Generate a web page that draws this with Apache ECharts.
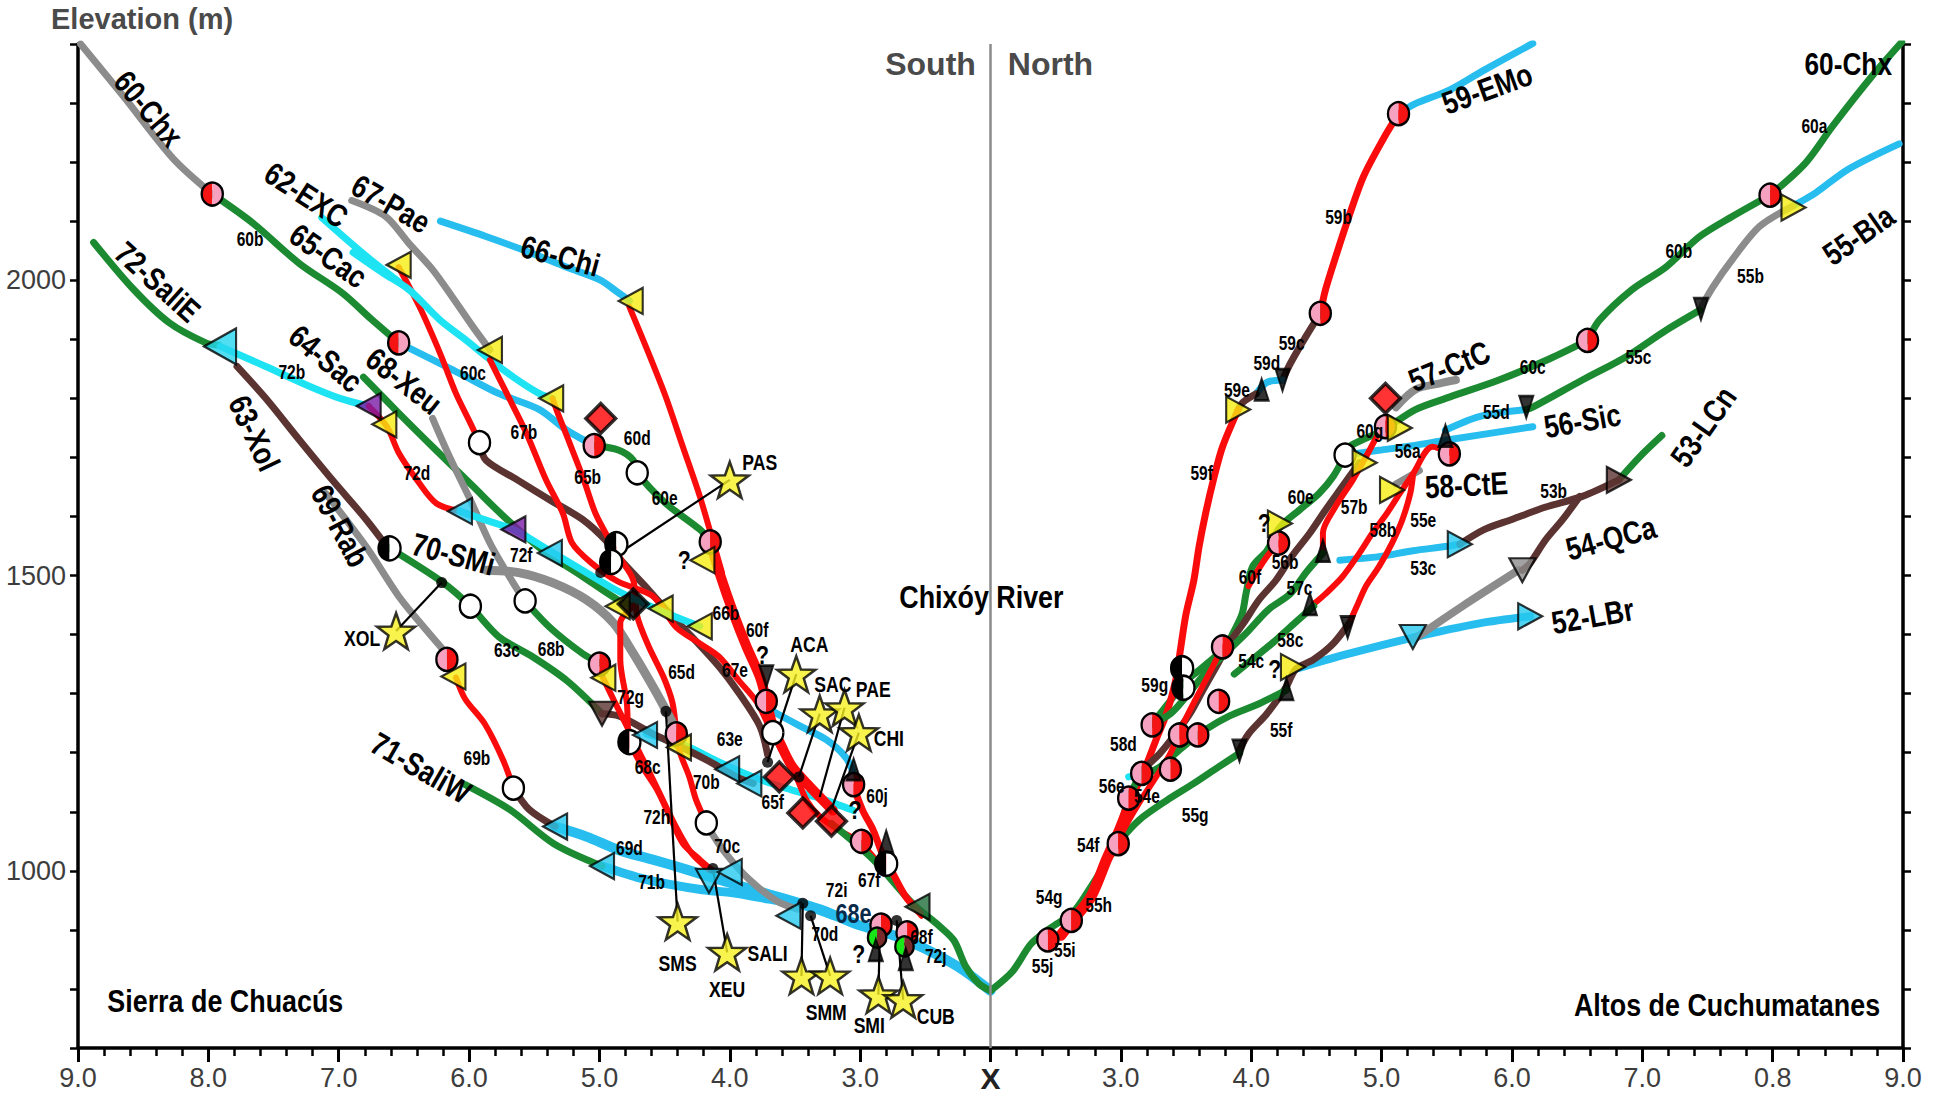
<!DOCTYPE html>
<html><head><meta charset="utf-8">
<script src="https://cdn.jsdelivr.net/npm/echarts@6.0.0/dist/echarts.min.js"></script>
<style>html,body{margin:0;padding:0;background:#fff}#c{width:1940px;height:1095px}</style>
</head><body><div id="c"></div>
<script>
// ---------- DATA: [distance (km), elevation (m)] ; S = South bank (left), N = North bank (right) ----------
const xTickLabelsSouth = ['9.0','8.0','7.0','6.0','5.0','4.0','3.0'];
const xTickLabelsNorth = ['3.0','4.0','5.0','6.0','7.0','0.8','9.0'];
const yTickLabels = [1000, 1500, 2000];

// South side routes
const s60Chx = [[8.98,2400],[8.65,2311],[8.27,2206],[7.97,2146]];
const s60b = [[7.97,2146],[7.66,2097],[7.30,2028],[6.97,1978],[6.75,1934],[6.54,1894]];
const s60c = [[6.54,1894],[6.07,1842],[5.77,1808],[5.46,1781],[5.25,1746],[5.04,1720]];
const s60d = [[5.04,1720],[4.85,1712],[4.74,1695],[4.71,1674],[4.49,1622],[4.23,1578],[4.15,1557]];
const s60f = [[4.15,1557],[4.08,1505],[3.97,1435],[3.87,1379],[3.77,1329],[3.72,1289],[3.67,1245],[3.59,1205],[3.52,1176],[3.41,1148],[3.31,1125],[3.21,1102]];
const s60g = [[3.22,1080],[2.90,1019],[2.60,945],[2.39,906],[2.28,882],[2.19,838],[2.09,809],[2.00,797]];
const s66Chi = [[6.22,2100],[5.87,2074],[5.51,2045],[5.25,2022],[5.00,2001],[4.85,1978],[4.77,1965]];
const s66b = [[4.77,1955],[4.62,1875],[4.49,1802],[4.36,1718],[4.23,1634],[4.13,1559],[4.06,1505]];
const s66c = [[3.67,1270],[3.46,1245],[3.26,1222],[3.11,1192],[3.05,1165]];
const s60j = [[3.05,1142],[2.98,1102],[2.90,1069],[2.83,1029],[2.75,996],[2.65,956],[2.54,929]];
const s62EXC = [[7.13,2106],[6.79,2041],[6.46,1984]];
const s62b = [[6.54,2022],[6.38,1955],[6.22,1875],[6.10,1808],[5.99,1758],[5.92,1725]];
const s62d = [[5.92,1725],[5.87,1695],[5.63,1662],[5.38,1628],[5.13,1595],[4.95,1559],[4.86,1532],[4.62,1475],[4.48,1440],[4.29,1396],[4.08,1345],[3.93,1301],[3.77,1245],[3.71,1197]];
const s65Cac = [[6.89,2047],[6.66,2012],[6.46,1984],[6.22,1932],[6.02,1898],[5.87,1871],[5.66,1836],[5.46,1808],[5.36,1800]];
const s65b = [[5.36,1800],[5.33,1781],[5.23,1725],[5.12,1662],[5.03,1605],[4.92,1559],[4.85,1532],[4.74,1492],[4.71,1431],[4.62,1379],[4.51,1329],[4.44,1285],[4.41,1232]];
const s67Pae = [[6.90,2135],[6.64,2108],[6.46,2062],[6.28,2018],[6.13,1972],[5.97,1921],[5.84,1882]];
const s67b = [[5.84,1865],[5.71,1808],[5.56,1741],[5.41,1662],[5.28,1605],[5.21,1555],[5.06,1521],[4.86,1490],[4.59,1465],[4.41,1412],[4.23,1385],[4.08,1362],[3.93,1322],[3.79,1285],[3.70,1245],[3.59,1199],[3.49,1159],[3.41,1119],[3.31,1092],[3.15,1067],[3.00,1048],[2.84,1008],[2.67,962],[2.53,924]];
const s63Xol = [[7.78,1854],[7.56,1800],[7.30,1729],[7.05,1662],[6.79,1595],[6.63,1549]];
const s63c = [[6.63,1549],[6.20,1488],[5.99,1448],[5.77,1396],[5.51,1362],[5.25,1322],[4.98,1266]];
const s63e = [[4.98,1266],[4.85,1262],[4.59,1232],[4.33,1205],[4.13,1182],[3.95,1159],[3.82,1148]];
const s63f = [[4.64,1232],[4.33,1211],[4.08,1184],[3.82,1159],[3.57,1140],[3.31,1123],[3.05,1102]];
const s64Sac = [[6.81,1836],[6.54,1775],[6.28,1718],[5.97,1651],[5.71,1595],[5.43,1542],[5.14,1500],[4.86,1459],[4.74,1448]];
const s68Xeu = [[6.28,1766],[6.15,1701],[5.99,1628],[5.84,1555],[5.71,1505],[5.58,1459]];
const s68b = [[5.58,1459],[5.38,1412],[5.13,1368],[5.00,1352]];
const s68c = [[4.74,1448],[4.84,1420],[4.84,1358],[4.79,1285],[4.77,1222],[4.67,1176],[4.56,1138],[4.46,1092],[4.36,1046],[4.23,1019],[4.14,1002]];
const s70SMi = [[5.87,1509],[5.62,1505],[5.36,1488],[5.10,1459],[4.89,1419],[4.74,1368],[4.59,1312],[4.49,1272],[4.41,1239]];
const s70b = [[4.41,1232],[4.38,1199],[4.31,1159],[4.26,1121],[4.19,1086]];
const s70c = [[4.17,1075],[4.03,1029],[3.85,985],[3.64,949],[3.48,935]];
const s72SaliE = [[8.88,2064],[8.58,1986],[8.30,1928],[8.02,1894],[7.92,1890]];
const s72b = [[7.91,1888],[7.56,1854],[7.23,1821],[6.99,1800],[6.77,1787]];
const s72d = [[6.77,1787],[6.63,1752],[6.54,1708],[6.40,1662],[6.25,1622],[6.07,1609]];
const s72f = [[6.07,1609],[5.89,1595],[5.66,1578],[5.38,1542],[5.13,1509],[4.87,1475],[4.67,1454],[4.47,1435],[4.23,1414]];
const s72g = [[4.99,1335],[4.89,1289],[4.79,1245],[4.69,1199],[4.59,1155],[4.49,1109],[4.40,1069],[4.29,1029],[4.16,1002]];
const s69Rab = [[7.10,1639],[6.79,1549],[6.54,1465],[6.33,1408],[6.15,1362]];
const s69b = [[6.10,1327],[6.03,1291],[5.88,1249],[5.74,1188],[5.66,1140]];
const s69c = [[5.66,1140],[5.54,1104],[5.34,1075]];
const s69d = [[5.34,1075],[5.10,1058],[4.85,1035],[4.59,1019],[4.33,1002],[4.08,985],[3.82,968],[3.57,952],[3.31,935],[3.01,908],[2.80,895],[2.60,878],[2.42,859],[2.21,832],[2.00,797]];
const s71SaliW = [[6.03,1146],[5.69,1104],[5.35,1046],[4.98,1008]];
const s71b = [[4.98,1008],[4.71,989],[4.46,977],[4.21,968],[3.95,962],[3.70,952],[3.43,941],[3.20,924]];

// North side routes
const n60Chx = [[8.99,2403],[8.76,2345],[8.46,2261],[8.25,2198],[7.98,2144]];
const n60b = [[7.98,2144],[7.69,2108],[7.44,2074],[7.18,2022],[6.92,1984],[6.67,1932],[6.58,1898]];
const n60c = [[6.58,1898],[6.29,1867],[5.90,1831],[5.52,1802],[5.26,1781],[5.01,1746],[4.75,1718],[4.72,1704]];
const n60e = [[4.72,1704],[4.63,1668],[4.52,1639],[4.37,1611],[4.22,1582],[4.12,1542],[4.01,1515],[3.96,1469],[3.93,1435],[3.86,1402],[3.80,1379],[3.62,1343],[3.48,1318],[3.37,1285],[3.24,1249]];
const n60f = [[4.21,1555],[4.12,1532],[4.04,1505],[3.98,1482]];
const n59EMo = [[6.16,2401],[5.78,2355],[5.52,2322],[5.26,2299],[5.13,2282]];
const n59b = [[5.13,2282],[5.01,2238],[4.86,2175],[4.75,2108],[4.65,2041],[4.57,1984],[4.53,1944]];
const n59c = [[4.53,1944],[4.42,1905],[4.30,1859],[4.24,1831]];
const n59d = [[4.24,1831],[4.12,1827],[4.04,1808]];
const n59e = [[4.04,1808],[3.94,1794],[3.90,1781]];
const n59f = [[3.90,1781],[3.78,1718],[3.71,1662],[3.65,1605],[3.60,1549],[3.56,1492],[3.50,1435],[3.46,1379],[3.42,1322],[3.35,1266],[3.27,1222],[3.20,1182],[3.09,1126]];
const n55h = [[3.09,1126],[2.99,1069],[2.89,1019],[2.77,956],[2.63,916],[2.54,891]];
const n58d = [[3.78,1379],[3.68,1335],[3.57,1289],[3.47,1245],[3.38,1199],[3.27,1159],[3.14,1115],[3.02,1069],[2.94,1029]];
const n57CtC = [[5.11,1785],[5.26,1815],[5.44,1825],[5.57,1831]];
const n57b = [[5.04,1758],[4.98,1741],[4.88,1701],[4.78,1662],[4.65,1618],[4.55,1572],[4.55,1542]];
const n57c = [[4.55,1538],[4.42,1505],[4.30,1469],[4.13,1442],[3.96,1402],[3.80,1368],[3.65,1335],[3.50,1295],[3.38,1266],[3.24,1249]];
const n58CtE = [[5.11,1655],[5.29,1678]];
const n58b = [[5.52,1708],[5.39,1718],[5.24,1672],[5.14,1639],[5.04,1605],[4.93,1572],[4.83,1538],[4.70,1498],[4.57,1469],[4.48,1452]];
const n58c = [[4.48,1448],[4.32,1417],[4.17,1387],[4.02,1360],[3.87,1333]];
const n55Bla = [[8.15,2125],[8.33,2148],[8.58,2188],[8.97,2231]];
const n55b = [[8.15,2125],[7.90,2091],[7.69,2035],[7.54,1988],[7.44,1949]];
const n55c = [[7.44,1949],[7.18,1915],[6.88,1871],[6.54,1831],[6.16,1785],[6.11,1781]];
const n55d = [[6.11,1781],[5.75,1769],[5.49,1746]];
const n55e = [[5.24,1668],[5.22,1639],[5.16,1595],[5.08,1555],[4.98,1515],[4.88,1482],[4.81,1448],[4.75,1419]];
const n55f = [[4.75,1419],[4.63,1385],[4.48,1358],[4.34,1341],[4.27,1312],[4.12,1266],[3.98,1232],[3.91,1205]];
const n55g = [[3.91,1199],[3.75,1176],[3.56,1148],[3.35,1119],[3.14,1086],[2.97,1046]];
const n56a = [[4.72,1704],[4.98,1712],[5.24,1720],[5.49,1729],[6.16,1752]];
const n56b = [[4.83,1691],[4.70,1651],[4.57,1611],[4.45,1572],[4.31,1532],[4.19,1492],[4.06,1459],[3.94,1419],[3.83,1385],[3.73,1345],[3.63,1306],[3.53,1266],[3.42,1232],[3.30,1199],[3.17,1172]];
const n56e = [[3.06,1159],[3.30,1172]];
const n54c = [[4.27,1306],[4.06,1283],[3.83,1262],[3.65,1239],[3.45,1205],[3.30,1176],[3.14,1159]];
const n54g = [[3.14,1159],[3.06,1123],[3.02,1092],[2.97,1046],[2.87,1008],[2.75,966],[2.63,929],[2.46,903],[2.31,876],[2.17,830],[2.00,797]];
const n54QCa = [[5.24,1391],[5.62,1448],[6.05,1509]];
const n54b = [[6.52,1634],[6.39,1595],[6.26,1561],[6.14,1521],[6.08,1509]];
const n53LCn = [[7.15,1737],[6.98,1701],[6.82,1662]];
const n53b = [[6.82,1662],[6.54,1634],[6.26,1616],[6.00,1595],[5.79,1578],[5.60,1553]];
const n53c = [[4.68,1526],[4.98,1532],[5.24,1542],[5.49,1549],[5.60,1553]];
const n52LBr = [[4.36,1343],[4.72,1366],[5.24,1395],[5.75,1419],[6.14,1431]];

// Markers: [side, distance, elevation, (which half is red)]
const halfCircles = [['S',7.97,2146,'L'],['S',6.54,1894,'L'],['S',5.04,1720],['S',4.15,1557],['S',6.17,1358],['S',5.00,1350],['S',4.41,1232],['S',3.72,1287],['S',3.05,1146],['S',2.99,1050],['S',2.84,908],['S',2.64,895],
  ['N',5.13,2282],['N',4.53,1944],['N',7.98,2144],['N',6.58,1898],['N',5.03,1752],['N',5.52,1706],['N',4.21,1555],['N',3.78,1379],['N',3.24,1247],['N',3.45,1230],['N',3.59,1230],['N',3.75,1287],['N',3.38,1172],['N',3.16,1165],['N',3.06,1123],['N',2.98,1046],['N',2.62,916],['N',2.44,883]];
const whiteCircles = [['S',5.92,1725],['S',4.71,1674],['S',5.99,1448],['S',5.57,1457],['S',5.66,1140],['S',3.67,1234],['S',4.18,1081],['N',4.72,1704]];
const halfBlackCircles = [['S',6.61,1546],['S',4.87,1553],['S',4.91,1523],['S',4.77,1218],['S',2.80,1012],['N',3.47,1343],['N',3.48,1310]];
const greenCircles = [['S',2.87,887],['S',2.66,872]];
const blackDots = [['S',6.21,1488],['S',4.99,1505],['S',4.49,1270],['S',4.13,1004],['S',3.71,1184],['S',3.47,1159],['S',3.44,945],['S',3.38,924],['S',2.72,916]];
const redDiamonds = [['S',4.99,1766],['S',3.62,1159],['S',3.44,1098],['S',3.22,1084],['N',5.03,1800]];
const blackDiamonds = [['S',4.74,1452]];
// triangles: [side, distance, elevation, pointing]
const yellowTriangles = [['S',6.54,2026,'<'],['S',5.84,1882,'<'],['S',5.37,1800,'<'],['S',4.76,1965,'<'],['S',6.65,1756,'<'],['S',6.12,1329,'<'],['S',4.97,1327,'<'],['S',4.39,1209,'<'],['S',4.86,1448,'<'],['S',4.53,1444,'<'],['S',4.23,1414,'<'],['S',4.21,1526,'<'],
  ['N',3.90,1781,'>'],['N',5.14,1750,'>'],['N',4.87,1691,'>'],['N',5.08,1645,'>'],['N',4.22,1588,'>'],['N',4.32,1345,'>'],['N',8.16,2123,'>']];
const cyanTriangles = [['S',6.07,1609,'<'],['S',5.38,1538,'<'],['S',4.65,1230,'<'],['S',4.02,1172,'<'],['S',3.85,1148,'<'],['S',5.34,1075,'<'],['S',4.98,1008,'<'],['S',4.16,983,'v'],['S',4.00,998,'<'],['S',3.55,924,'<'],
  ['N',5.60,1553,'>'],['N',6.14,1431,'>'],['N',5.24,1396,'v']];
const bigCyanTriangles = [['S',7.91,1888,'<']];
const purpleTriangles = [['S',6.77,1787,'<'],['S',5.66,1578,'<']];
const brownTriangles = [['S',4.98,1266,'v'],['N',6.82,1662,'>']];
const grayTriangles = [['N',6.08,1509,'v']];
const greenTriangles = [['S',2.56,939,'<']];
const blackTriangles = [['S',3.72,1329,'v'],['S',3.05,1172,'^'],['S',2.80,1050,'^'],['S',2.88,866,'^'],['S',2.65,851,'^'],
  ['N',4.24,1831,'v'],['N',4.08,1815,'^'],['N',6.11,1785,'v'],['N',7.45,1951,'v'],['N',5.49,1737,'^'],['N',4.55,1542,'^'],['N',4.45,1452,'^'],['N',4.74,1412,'v'],['N',4.27,1308,'^'],['N',3.91,1203,'v']];
// sample sites (stars) and their tie lines
const stars = [['S',4.00,1662],['S',6.56,1406],['S',3.49,1333],['S',3.31,1266],['S',3.12,1276],['S',3.01,1234],['S',4.40,914],['S',4.02,862],['S',3.45,822],['S',3.23,822],['S',2.86,790],['S',2.67,782]];
const tieLines = [[[4.00,1662],[4.86,1536]],[[6.56,1406],[6.21,1488]],[[4.49,1270],[4.40,914]],[[4.13,1004],[4.02,862]],[[3.49,1333],[3.71,1184]],[[3.31,1266],[3.47,1159]],[[3.12,1276],[3.31,1125]],[[3.01,1234],[3.23,1098]],[[3.44,945],[3.45,822]],[[3.38,924],[3.23,822]],[[2.85,885],[2.86,790]],[[2.72,916],[2.67,782]]];

// Text annotations: [side, distance, elevation, text, angle]
const routeLabels = [['S',8.46,2290,'60-Chx',-50],['S',7.25,2144,'62-EXC',-33],['S',6.60,2129,'67-Pae',-30],['S',7.08,2041,'65-Cac',-35],['S',5.30,2041,'66-Chi',-15],['S',8.39,1997,'72-SaliE',-42],['S',7.10,1867,'64-Sac',-40],['S',6.50,1829,'68-Xeu',-38],['S',7.65,1741,'63-Xol',-65],['S',6.99,1584,'69-Rab',-62],['S',6.12,1536,'70-SMi',-15],['S',6.37,1174,'71-SaliW',-30],
  ['N',5.81,2324,'59-EMo',20],['N',5.52,1854,'57-CtC',22],['N',6.54,1762,'56-Sic',10],['N',5.65,1653,'58-CtE',3],['N',8.66,2076,'55-Bla',35],['N',8.58,2366,'60-Chx',0],['N',7.47,1752,'53-LCn',55],['N',6.76,1563,'54-QCa',15],['N',6.62,1431,'52-LBr',10]];
const segmentLabels = [['S',7.68,2070,'60b'],['S',7.36,1846,'72b'],['S',5.97,1844,'60c'],['S',5.58,1743,'67b'],['S',6.40,1674,'72d'],['S',4.71,1733,'60d'],['S',5.09,1668,'65b'],['S',4.50,1632,'60e'],['S',5.60,1536,'72f'],['S',5.71,1375,'63c'],['S',5.37,1377,'68b'],['S',4.03,1438,'66b'],['S',3.79,1408,'60f'],['S',3.96,1341,'67e'],['S',4.37,1337,'65d'],['S',4.76,1295,'72g'],['S',4.00,1224,'63e'],['S',4.63,1176,'68c'],['S',4.18,1151,'70b'],['S',3.67,1117,'65f'],['S',2.87,1127,'60j'],['S',4.56,1092,'72h'],['S',5.94,1192,'69b'],['S',4.77,1040,'69d'],['S',4.60,981,'71b'],['S',4.02,1042,'70c'],['S',3.18,968,'72i'],['S',3.27,893,'70d'],['S',2.53,889,'68f'],['S',2.42,857,'72j'],['S',2.93,985,'67f'],
  ['N',8.32,2261,'60a'],['N',7.28,2051,'60b'],['N',7.83,2007,'55b'],['N',6.16,1854,'60c'],['N',6.97,1871,'55c'],['N',5.88,1777,'55d'],['N',4.67,2108,'59b'],['N',4.31,1894,'59c'],['N',4.12,1861,'59d'],['N',3.89,1815,'59e'],['N',3.62,1674,'59f'],['N',4.91,1746,'60g'],['N',5.20,1712,'56a'],['N',4.38,1634,'60e'],['N',4.79,1616,'57b'],['N',5.01,1578,'58b'],['N',5.32,1595,'55e'],['N',6.32,1643,'53b'],['N',5.32,1513,'53c'],['N',3.99,1498,'60f'],['N',4.26,1523,'56b'],['N',4.37,1480,'57c'],['N',4.30,1391,'58c'],['N',4.00,1356,'54c'],['N',4.23,1239,'55f'],['N',3.26,1316,'59g'],['N',3.02,1216,'58d'],['N',2.93,1144,'56e'],['N',3.20,1128,'54e'],['N',3.57,1096,'55g'],['N',2.75,1044,'54f'],['N',2.45,956,'54g'],['N',2.83,943,'55h'],['N',2.57,866,'55i'],['N',2.40,839,'55j']];
const bigSegmentLabels = [['S',3.05,928,'68e']];
const queryLabels = [['S',4.35,1526,'?'],['S',3.75,1364,'?'],['S',3.04,1102,'?'],['S',3.01,859,'?'],['N',4.10,1588,'?'],['N',4.18,1341,'?']];
const siteLabels = [['S',3.77,1691,'PAS'],['S',6.82,1394,'XOL'],['S',3.39,1383,'ACA'],['S',3.21,1316,'SAC'],['S',2.90,1308,'PAE'],['S',2.78,1224,'CHI'],['S',4.40,843,'SMS'],['S',4.02,799,'XEU'],['S',3.71,861,'SALI'],['S',3.26,761,'SMM'],['S',2.93,738,'SMI'],['S',2.42,753,'CUB']];
const regionLabels = [['S',2.07,1465,'Chixóy River'],['S',7.87,780,'Sierra de Chuacús'],['N',7.65,773,'Altos de Cuchumatanes']];
const sideLabels = [['S',2.46,2366,'South'],['N',2.46,2366,'North']];

// ---------- RENDERING ----------
const FONT = "'Liberation Sans',Arial,sans-serif";
const COL = {gray:'#8c8c8c', green:'#1b8a30', red:'#fb0c0c', sky:'#27bdee', cyan:'#1de3f3', brown:'#5b3331'};
const toU = (side, d) => side === 'S' ? -(d - 2) : (d - 2);

const routes = [
  [s69d,'S','sky',10],[s71b,'S','sky',9],[s63f,'S','cyan',7],
  [s60Chx,'S','gray',7],[s60b,'S','green',7],[s60c,'S','sky',7],[s60d,'S','green',7],
  [s66Chi,'S','sky',7],[s66b,'S','red',6],[s66c,'S','sky',7],
  [s62EXC,'S','cyan',7],[s62b,'S','red',6],[s62d,'S','brown',7],
  [s65Cac,'S','cyan',7],[s65b,'S','red',6],
  [s67Pae,'S','gray',7],[s67b,'S','red',6],
  [s63Xol,'S','brown',7],[s63c,'S','green',7],[s63e,'S','brown',7],
  [s64Sac,'S','green',7],[s68Xeu,'S','gray',7],[s68b,'S','green',7],
  [s70SMi,'S','gray',9],[s70b,'S','red',6],[s70c,'S','gray',7],
  [s68c,'S','red',6],[s72g,'S','red',6],
  [s72SaliE,'S','green',7],[s72b,'S','cyan',7],[s72d,'S','red',6],[s72f,'S','cyan',7],
  [s69Rab,'S','gray',7],[s69b,'S','red',6],[s69c,'S','brown',7],
  [s71SaliW,'S','green',7],[s60g,'S','green',7],[s60f,'S','red',10],[s60j,'S','red',7],
  [n60Chx,'N','green',7],[n60b,'N','green',7],[n60c,'N','green',7],[n60e,'N','green',7],[n60f,'N','red',6],
  [n59EMo,'N','sky',7],[n59b,'N','red',7],[n59c,'N','brown',7],[n59d,'N','sky',7],[n59e,'N','brown',7],[n59f,'N','red',7],
  [n56a,'N','sky',7],[n55d,'N','sky',7],[n53c,'N','sky',7],[n52LBr,'N','sky',8],[n55Bla,'N','sky',7],[n56e,'N','cyan',7],
  [n55b,'N','gray',7],[n55c,'N','green',7],[n57CtC,'N','gray',8],[n58CtE,'N','gray',7],[n54QCa,'N','gray',8],
  [n53LCn,'N','green',7],[n53b,'N','brown',7],[n54b,'N','brown',7],
  [n56b,'N','brown',7],[n57b,'N','red',6],[n57c,'N','green',7],[n58b,'N','red',6],[n58c,'N','green',7],
  [n55e,'N','red',6],[n55f,'N','brown',7],[n55g,'N','green',7],[n54c,'N','green',7],[n54g,'N','green',7],
  [n58d,'N','red',6],[n55h,'N','red',11]
];

const series = [];
routes.forEach(([arr, side, col, w]) => {
  series.push({type:'line', data: arr.map(p => [toU(side,p[0]), p[1]]), smooth:0.3, symbol:'none', silent:true,
    lineStyle:{color:COL[col], width:w, cap:'round', join:'round'}, z:2});
});
tieLines.forEach(pair => {
  series.push({type:'line', data: pair.map(p => [toU('S',p[0]), p[1]]), symbol:'none', silent:true,
    lineStyle:{color:'#000', width:2.2}, z:3});
});
series[0].markLine = {silent:true, symbol:'none', label:{show:false}, data:[{xAxis:0}], lineStyle:{color:'#8a8a8a', width:2.5, type:'solid'}};

const pos = arr => arr.map(m => [toU(m[0], m[1]), m[2]]);
function circleSeries(arr, colA, colB, r, flip) {
  return {type:'custom', data: pos(arr), encode:{x:0,y:1}, z:5, silent:true,
    renderItem(params, api) {
      const p = api.coord([api.value(0), api.value(1)]);
      const m = arr[params.dataIndex];
      let left = colA, right = colB;
      if (flip && m[3] === 'L') { left = colB; right = colA; }
      const ch = [];
      if (left === right) {
        ch.push({type:'circle', shape:{cx:0,cy:0,r}, style:{fill:left, stroke:'#000', lineWidth:2.5}});
      } else {
        ch.push({type:'sector', shape:{cx:0,cy:0,r,r0:0,startAngle:Math.PI/2,endAngle:Math.PI*1.5,clockwise:true}, style:{fill:left}});
        ch.push({type:'sector', shape:{cx:0,cy:0,r,r0:0,startAngle:-Math.PI/2,endAngle:Math.PI/2,clockwise:true}, style:{fill:right}});
        ch.push({type:'circle', shape:{cx:0,cy:0,r}, style:{fill:'none', stroke:'#000', lineWidth:2.5}});
      }
      return {type:'group', x:p[0], y:p[1], scaleX:0.92, children:ch};
    }};
}
series.push(circleSeries(halfCircles, '#f7a1c0', '#f41414', 11.5, true));
series.push(circleSeries(whiteCircles, '#ffffff', '#ffffff', 11.5));
series.push(circleSeries(halfBlackCircles, '#000000', '#ffffff', 12));
series.push(circleSeries(greenCircles, '#19e619', '#7a2a2a', 10));
series.push({type:'scatter', data: pos(blackDots), symbol:'circle', symbolSize:11, itemStyle:{color:'#000'}, z:5, silent:true});

const ROT = {'<':90, '>':-90, 'v':180, '^':0};
function triSeries(arr, fill, size, stroke) {
  return {type:'scatter', silent:true, z:6,
    data: arr.map(m => ({value:[toU(m[0],m[1]), m[2]], symbolRotate: ROT[m[3]]})),
    symbol:'triangle', symbolSize:size, itemStyle:{color:fill, borderColor:stroke||'#000', borderWidth:2.2}};
}
series.push(triSeries(yellowTriangles, '#f6ee12', [26,24]));
series.push(triSeries(cyanTriangles, '#27c9ef', [26,24]));
series.push(triSeries(bigCyanTriangles, '#27d6ef', [36,32]));
series.push(triSeries(purpleTriangles, '#7a1aa5', [26,24]));
series.push(triSeries(brownTriangles, '#5b3331', [26,24]));
series.push(triSeries(grayTriangles, '#8c8c8c', [26,24]));
series.push(triSeries(greenTriangles, '#1f6e3a', [26,24]));
series.push(triSeries(blackTriangles, '#000', [14,22], '#000'));
series.push({type:'scatter', silent:true, z:6, data: pos(redDiamonds), symbol:'rect', symbolRotate:45, symbolSize:21,
  itemStyle:{color:'#f00', borderColor:'#000', borderWidth:3.5}});
series.push({type:'scatter', silent:true, z:6, data: pos(blackDiamonds), symbol:'rect', symbolRotate:45, symbolSize:21,
  itemStyle:{color:'#000', borderColor:'#000', borderWidth:3.5}});
series.push({type:'scatter', silent:true, z:7, data: pos(stars),
  symbol:'path://M0,-50 L11.8,-16.2 L47.6,-15.5 L19,6.2 L29.4,40.5 L0,20 L-29.4,40.5 L-19,6.2 L-47.6,-15.5 L-11.8,-16.2 Z',
  symbolKeepAspect:true, symbolSize:38, itemStyle:{color:'#f8f020', borderColor:'#000', borderWidth:2.5}});

// narrow-looking text: real text, horizontally condensed
function textSeries(arr, size, weight, color, squeeze) {
  return {type:'custom', data: arr.map(m => [toU(m[0],m[1]), m[2]]), encode:{x:0,y:1}, z:10, silent:true,
    renderItem(params, api) {
      const m = arr[params.dataIndex];
      const p = api.coord([api.value(0), api.value(1)]);
      return {type:'text', x:p[0], y:p[1], rotation:(m[4]||0)*Math.PI/180, scaleX:squeeze,
        style:{text:m[3], fontFamily:FONT, fontSize:size, fontWeight:weight, fill:color, align:'center', verticalAlign:'middle', textAlign:'center', textVerticalAlign:'middle'}};
    }};
}
series.push(textSeries(routeLabels, 32, 'bold', '#000', 0.82));
series.push(textSeries(segmentLabels, 21, 'bold', '#000', 0.74));
series.push(textSeries(bigSegmentLabels, 27, 'bold', '#0a2a4a', 0.8));
series.push(textSeries(queryLabels, 25, 'bold', '#000', 0.85));
series.push(textSeries(siteLabels, 22, 'bold', '#000', 0.8));
series.push(textSeries(regionLabels, 32, 'bold', '#000', 0.84));
series.push(textSeries(sideLabels, 32, 'bold', '#4a4a4a', 1));

const xLabel = v => {
  const i = Math.round(v);
  if (i === 0) return '{x|X}';
  return i < 0 ? xTickLabelsSouth[i + 7] : xTickLabelsNorth[i - 1];
};
const axisLineStyle = {color:'#000', width:3.5};
const option = {
  animation:false,
  backgroundColor:'#fff',
  grid:{left:78, right:37, top:44, bottom:47},
  xAxis:{type:'value', min:-7, max:7, interval:1,
    axisLine:{show:true, onZero:false, lineStyle:axisLineStyle},
    axisTick:{show:true, length:14, lineStyle:{color:'#000', width:3}},
    minorTick:{show:true, splitNumber:5, length:8, lineStyle:{color:'#000', width:2.5}},
    splitLine:{show:false},
    axisLabel:{margin:16, color:'#3d3d3d', fontSize:27, lineHeight:27, fontFamily:FONT, formatter:xLabel,
      rich:{x:{fontSize:30, lineHeight:28, fontWeight:'bold', color:'#222', fontFamily:FONT}}}},
  yAxis:[
    {type:'value', min:700, max:2400, interval:100, position:'left',
      axisLine:{show:true, onZero:false, lineStyle:axisLineStyle},
      axisTick:{show:true, length:8, lineStyle:{color:'#000', width:2.5}},
      splitLine:{show:false},
      axisLabel:{margin:12, color:'#3d3d3d', fontSize:27, fontFamily:FONT, formatter:v => yTickLabels.includes(v) ? String(v) : ''}},
    {type:'value', min:700, max:2400, interval:100, position:'right',
      axisLine:{show:true, onZero:false, lineStyle:axisLineStyle},
      axisTick:{show:true, length:8, lineStyle:{color:'#000', width:2.5}},
      splitLine:{show:false}, axisLabel:{show:false}}
  ],
  graphic:[{type:'text', left:51, top:4, style:{text:'Elevation (m)', fontFamily:FONT, fontSize:29, fontWeight:'bold', fill:'#4a4a4a'}}],
  series
};
const chart = echarts.init(document.getElementById('c'), null, {renderer:'svg', width:1940, height:1095});
chart.setOption(option);
</script></body></html>
